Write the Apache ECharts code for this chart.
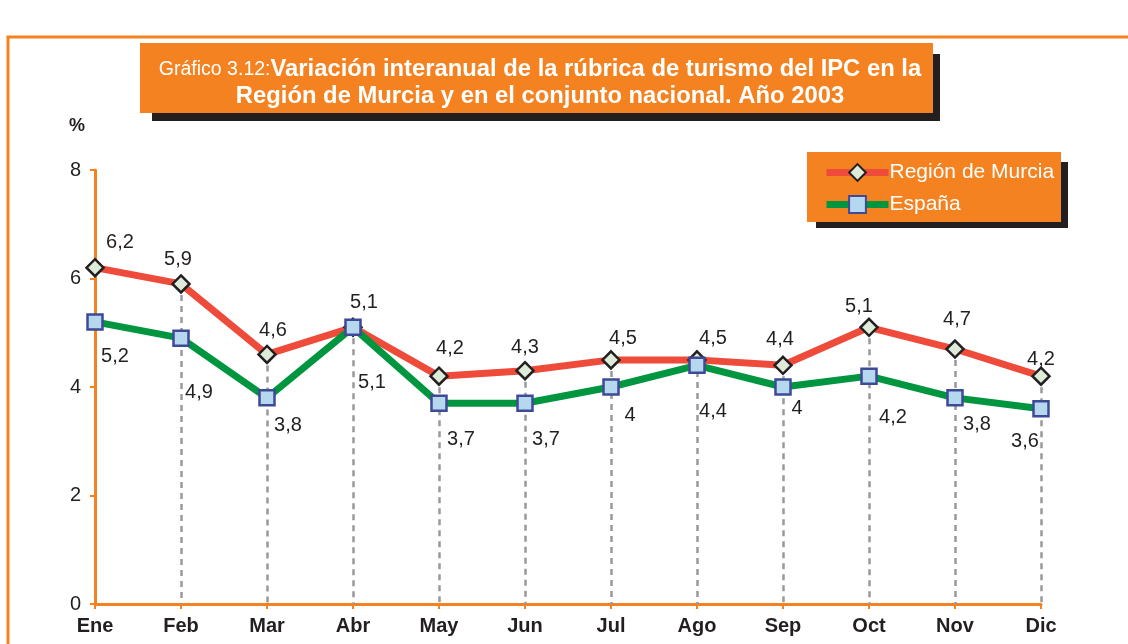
<!DOCTYPE html>
<html>
<head>
<meta charset="utf-8">
<script src="https://cdn.jsdelivr.net/npm/echarts@6/dist/echarts.min.js"></script>
<style>
  html, body { margin: 0; padding: 0; background: #fff; }
  #chart { width: 1128px; height: 644px; }
</style>
</head>
<body>
<div id="chart"></div>
<script>
var meses = ['Ene', 'Feb', 'Mar', 'Abr', 'May', 'Jun', 'Jul', 'Ago', 'Sep', 'Oct', 'Nov', 'Dic']
var murcia = [6.2, 5.9, 4.6, 5.1, 4.2, 4.3, 4.5, 4.5, 4.4, 5.1, 4.7, 4.2]
var espana = [5.2, 4.9, 3.8, 5.1, 3.7, 3.7, 4.0, 4.4, 4.0, 4.2, 3.8, 3.6]
var yTicks = [0, 2, 4, 6, 8]

// desplazamiento de etiquetas (solo estilo)
var offMurcia = [[25, 1], [-3, 1], [6, 2], [11, 1], [11, -2], [0, 3], [12, 4], [16, 4], [-3, 0], [-10, 5], [2, -4], [0, 9]]
var offEspana = [[20, 2], [18, 22], [21, -5], [19, 22], [22, 3], [21, 3], [19, -4], [16, 13], [14, -11], [24, 9], [22, -6], [-16, 0]]

var naranja = '#F58220'
var fmt = function(p) { return String(p.value).replace('.', ',') }

var dropLines = []
for (var i = 1; i < meses.length; i++) {
  dropLines.push([
    { coord: [meses[i], Math.max(murcia[i], espana[i])] },
    { coord: [meses[i], 0] }
  ])
}

var chart = echarts.init(document.getElementById('chart'))
chart.setOption({
  animation: false,
  textStyle: { fontFamily: 'Liberation Sans, Arial, sans-serif' },
  grid: { left: 95, right: 87, top: 170, bottom: 40 },
  graphic: [
    // marco
    { type: 'polyline', z: 0, shape: { points: [[8, 644], [8, 37], [1128, 37]] }, style: { stroke: naranja, lineWidth: 3, fill: null } },
    // caja del titulo
    { type: 'rect', z: 1, shape: { x: 152, y: 54, width: 788, height: 67 }, style: { fill: '#231F20' } },
    { type: 'rect', z: 2, shape: { x: 140, y: 43, width: 793, height: 70 }, style: { fill: naranja } },
    {
      type: 'text', z: 3, x: 540, y: 56,
      style: {
        x: 0, y: 0,
        text: '{n|Gráfico 3.12:}{b|Variación interanual de la rúbrica de turismo del IPC en la}\n{b|Región de Murcia y en el conjunto nacional. Año 2003}',
        align: 'center',
        verticalAlign: 'top',
        fill: '#fff',
        lineHeight: 27,
        rich: {
          n: { fontSize: 19.5, lineHeight: 27, fill: '#fff', fontFamily: 'Liberation Sans, Arial, sans-serif' },
          b: { fontSize: 23.8, lineHeight: 27, fontWeight: 'bold', fill: '#fff', fontFamily: 'Liberation Sans, Arial, sans-serif' }
        }
      }
    },
    { type: 'text', left: 69, top: 117, style: { text: '%', fontSize: 18, fontWeight: 'bold', fill: '#231F20' } },
    // caja de la leyenda
    { type: 'rect', z: 1, shape: { x: 816, y: 162, width: 252, height: 66 }, style: { fill: '#231F20' } },
    { type: 'rect', z: 2, shape: { x: 807, y: 152, width: 254, height: 70 }, style: { fill: naranja } }
  ],
  legend: {
    left: 818, top: 157,
    orient: 'vertical',
    itemGap: 11,
    itemWidth: 62,
    itemHeight: 21,
    z: 5,
    lineStyle: { width: 7 },
    textStyle: { color: '#fff', fontSize: 21, padding: [0, 0, 0, -4] },
    data: ['Región de Murcia', 'España']
  },
  xAxis: {
    type: 'category',
    data: meses,
    boundaryGap: false,
    axisLine: { lineStyle: { color: naranja, width: 3 } },
    axisTick: { alignWithLabel: true, length: 5, lineStyle: { color: naranja, width: 2 } },
    axisLabel: { color: '#231F20', fontSize: 20, fontWeight: 'bold', margin: 12 }
  },
  yAxis: {
    type: 'value',
    min: yTicks[0],
    max: yTicks[yTicks.length - 1],
    interval: 2,
    splitLine: { show: false },
    axisLine: { show: true, lineStyle: { color: naranja, width: 3 } },
    axisTick: { show: true, length: 5, lineStyle: { color: naranja, width: 2 } },
    axisLabel: { color: '#231F20', fontSize: 20, margin: 14 }
  },
  series: [
    {
      name: 'guias',
      type: 'line',
      data: [],
      z: 1,
      silent: true,
      markLine: {
        z: 1,
        silent: true,
        symbol: ['none', 'none'],
        label: { show: false },
        lineStyle: { color: '#999999', width: 2.5, type: [6, 5] },
        data: dropLines
      }
    },
    {
      name: 'Región de Murcia',
      type: 'line',
      z: 3,
      data: murcia.map(function(v, i) { return { value: v, label: { offset: offMurcia[i] } } }),
      lineStyle: { color: '#EE4B3A', width: 7 },
      symbol: 'diamond',
      symbolSize: 17,
      itemStyle: { color: '#DDEBD8', borderColor: '#231F20', borderWidth: 2.5 },
      label: { show: true, position: 'top', distance: 6, fontSize: 20, color: '#231F20', formatter: fmt }
    },
    {
      name: 'España',
      type: 'line',
      z: 4,
      data: espana.map(function(v, i) { return { value: v, label: { offset: offEspana[i] } } }),
      lineStyle: { color: '#00963F', width: 7 },
      symbol: 'rect',
      symbolSize: 15,
      itemStyle: { color: '#B5D8EE', borderColor: '#3F4A97', borderWidth: 2.5 },
      label: { show: true, position: 'bottom', distance: 14, fontSize: 20, color: '#231F20', formatter: fmt }
    }
  ]
})
</script>
</body>
</html>
